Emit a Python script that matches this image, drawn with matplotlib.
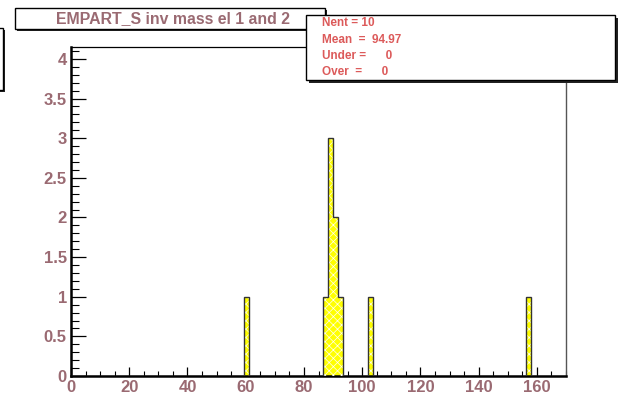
import numpy as np
import matplotlib
matplotlib.use("Agg")
import matplotlib.pyplot as plt
from matplotlib.patches import Rectangle
from matplotlib.ticker import MultipleLocator, FuncFormatter

# Histogram definition: 100 bins on [0, 170]
n_bins = 100
x_min, x_max = 0.0, 170.0
filled_bins = [35, 51, 52, 53, 54, 60, 92]
filled_counts = [1, 1, 3, 2, 1, 1, 1]

title = "EMPART_S inv mass el 1 and 2"
stats_lines = ["Nent = 10", "Mean  =  94.97", "Under =      0", "Over  =      0"]

edges = np.linspace(x_min, x_max, n_bins + 1)
counts = np.zeros(n_bins)
counts[filled_bins] = filled_counts

W, H = 623, 400
fig = plt.figure(figsize=(W / 100, H / 100), dpi=100)
fig.patch.set_facecolor("white")

label_col = "#9a6a72"
stats_col = "#dc5a5a"
font = ["Liberation Sans", "DejaVu Sans"]

plt.rcParams["hatch.linewidth"] = 0.5

ax = fig.add_axes([71 / W, (H - 376) / H, (566 - 71) / W, (376 - 47) / H])
ax.set_xlim(x_min, x_max)
ax.set_ylim(0, 4.15)

ax.stairs(counts, edges, fill=True, facecolor="#ffff00", linewidth=0, zorder=2)
ax.stairs(counts, edges, fill=True, facecolor="none", edgecolor="#fffff0",
          hatch="xxxx", linewidth=0, zorder=3)
ax.stairs(counts, edges, color="#333333", linewidth=1.0, zorder=4)

for side in ("left", "bottom"):
    ax.spines[side].set_linewidth(1.8)
    ax.spines[side].set_color("black")
ax.spines["top"].set_linewidth(0.9)
ax.spines["top"].set_color("black")
ax.spines["right"].set_linewidth(1.0)
ax.spines["right"].set_color("#555555")

ax.xaxis.set_major_locator(MultipleLocator(20))
ax.xaxis.set_minor_locator(MultipleLocator(5))
ax.yaxis.set_major_locator(MultipleLocator(0.5))
ax.yaxis.set_minor_locator(MultipleLocator(0.1))
ax.yaxis.set_major_formatter(FuncFormatter(lambda v, p: f"{v:g}"))
ax.xaxis.set_major_formatter(FuncFormatter(lambda v, p: f"{v:g}"))

ax.tick_params(axis="x", which="major", direction="in", length=6.5, width=0.9, pad=3,
               top=False, colors="black", labelcolor=label_col, labelsize=12)
ax.tick_params(axis="x", which="minor", direction="in", length=3.5, width=0.8, top=False)
ax.tick_params(axis="y", which="major", direction="in", length=11, width=0.9, pad=3,
               right=False, colors="black", labelcolor=label_col, labelsize=12)
ax.tick_params(axis="y", which="minor", direction="in", length=5.5, width=0.8, right=False)
for lbl in ax.get_xticklabels() + ax.get_yticklabels():
    lbl.set_fontfamily(font)
    lbl.set_fontweight("bold")

# Overlay in pixel coordinates for the title and statistics boxes
ov = fig.add_axes([0, 0, 1, 1], zorder=10)
ov.set_xlim(0, W)
ov.set_ylim(H, 0)
ov.axis("off")
ov.patch.set_alpha(0)


def shadow_box(x0, y0, x1, y1, lw=1.0, sh=3):
    ov.add_patch(Rectangle((x0 + sh, y0 + sh), x1 - x0, y1 - y0,
                           facecolor="#222222", edgecolor="none"))
    ov.add_patch(Rectangle((x0, y0), x1 - x0, y1 - y0,
                           facecolor="white", edgecolor="black", linewidth=lw))


# partially visible box on the left edge
shadow_box(-40, 28, 3, 90, sh=2)
# title box
shadow_box(15, 8, 325, 29, sh=2)
ov.text(173, 18.5, title, ha="center", va="center", color=label_col,
        fontsize=11.4, fontweight="bold", family=font)
# statistics box
shadow_box(306, 15, 615, 80, sh=3)
for y, s in zip([23, 40, 56, 72], stats_lines):
    ov.text(322, y, s, ha="left", va="center", color=stats_col,
            fontsize=8.5, fontweight="bold", family=font)

fig.savefig("out.png", dpi=100)
